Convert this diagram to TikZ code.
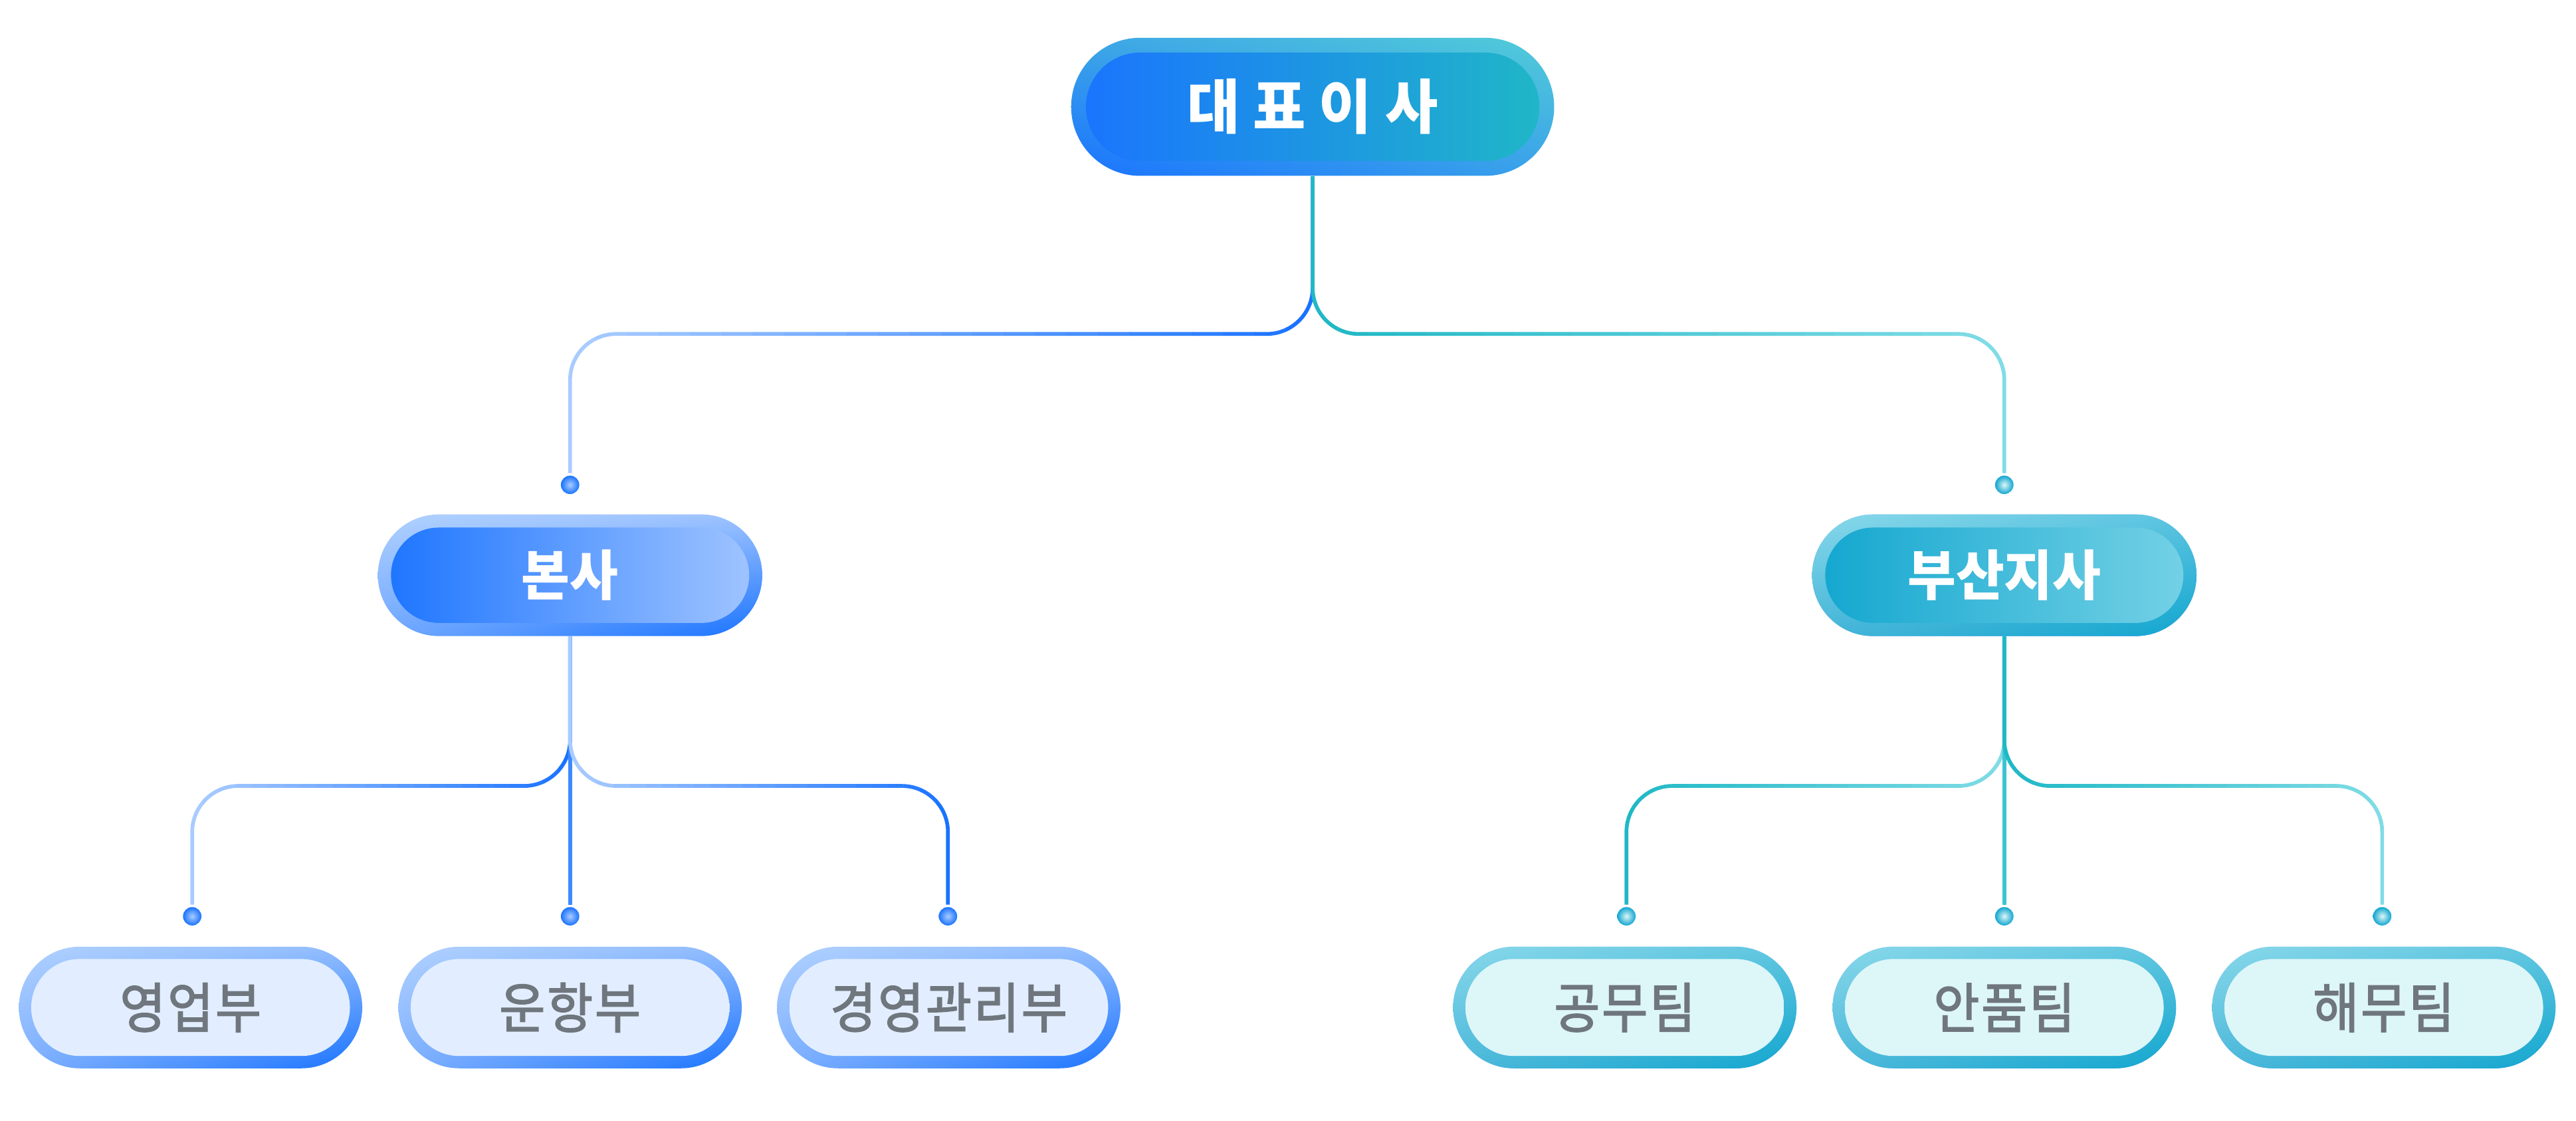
\documentclass[tikz,border=0pt]{standalone}
\usepackage{fontspec}
\newfontfamily\kr[FakeStretch=0.97]{Noto Sans CJK KR}
\newfontfamily\krm[FakeStretch=0.92,FakeBold=2,LetterSpace=3.5]{Noto Sans CJK KR}
\usetikzlibrary{shadings}

\definecolor{blueDk}{HTML}{1A73FF}
\definecolor{blueMid}{HTML}{3D8AFF}
\definecolor{blueLt}{HTML}{A9CCFF}
\definecolor{blueCore}{HTML}{A3C6FF}
\definecolor{blueFill}{HTML}{E2EEFF}
\definecolor{tealDk}{HTML}{12A6CF}
\definecolor{tealMid}{HTML}{20B8C6}
\definecolor{tealLine}{HTML}{3CC4D2}
\definecolor{tealLt}{HTML}{80DCE6}
\definecolor{tealCore}{HTML}{76D2E6}
\definecolor{tealFill}{HTML}{DDF6F8}
\definecolor{textGray}{HTML}{6F767D}
\definecolor{ceoUL}{HTML}{3DA6E6}
\definecolor{ceoUR}{HTML}{52CCD8}
\definecolor{ceoLR}{HTML}{3AA2EA}
\definecolor{hqUL}{HTML}{B1D1FF}
\definecolor{hqUR}{HTML}{9CC2FF}
\definecolor{hqLL}{HTML}{70A8FF}
\definecolor{bsUL}{HTML}{88D8EA}
\definecolor{bsUR}{HTML}{5CC4E0}
\definecolor{bsLL}{HTML}{45B5D8}
\definecolor{tmUR}{HTML}{90BCFF}
\definecolor{tmLL}{HTML}{7EB0FF}
\definecolor{ttUR}{HTML}{60C6E0}
\definecolor{ttLL}{HTML}{4CB8DA}

\tikzset{
  link/.style={line width=2.3pt, rounded corners=28pt},
  pill/.style={rectangle, inner sep=0pt},
  ring/.style n args={4}{preaction={upper left=#1, upper right=#2, lower left=#3, lower right=#4}},
  core/.style n args={4}{path picture={\shade[left color=#1, right color=#2, rounded corners=#4]
      ([shift={(#3,#3)}]path picture bounding box.south west) rectangle
      ([shift={(-#3,-#3)}]path picture bounding box.north east);}},
  ceobox/.style={pill, minimum width=294pt, minimum height=84pt, rounded corners=42pt,
      ring={ceoUL}{ceoUR}{blueDk}{ceoLR}, core={blueDk}{tealMid}{9pt}{33pt},
      font=\kr\bfseries\fontsize{36}{36}\selectfont, text=white},
  hqbox/.style={pill, minimum width=234pt, minimum height=74pt, rounded corners=37pt,
      ring={hqUL}{hqUR}{hqLL}{blueDk}, core={blueDk}{blueCore}{8pt}{29pt},
      font=\kr\bfseries\fontsize{33}{33}\selectfont, text=white},
  bsbox/.style={hqbox, ring={bsUL}{bsUR}{bsLL}{tealDk}, core={tealDk}{tealCore}{8pt}{29pt}},
  hqteam/.style={pill, minimum width=209pt, minimum height=74pt, rounded corners=37pt,
      ring={hqUL}{tmUR}{tmLL}{blueDk}, core={blueFill}{blueFill}{7.5pt}{29.5pt},
      font=\krm\fontsize{33}{33}\selectfont, text=textGray},
  bsteam/.style={hqteam, ring={bsUL}{ttUR}{ttLL}{tealDk}, core={tealFill}{tealFill}{7.5pt}{29.5pt}},
  bdot/.style={circle, inner sep=0pt, minimum size=11.2pt, outer sep=1.5pt,
      inner color=blueLt, outer color=blueDk},
  tdot/.style={bdot, inner color=tealFill, outer color=tealDk}
}

% #1,#2: x range, #3: left colour, #4: right colour, #5: path
\newcommand\gradpath[5]{%
  \foreach \k in {0,...,23}{%
    \pgfmathtruncatemacro\mix{100*\k/23}%
    \begin{scope}
      \clip ({#1-3+(#2-#1+6)*\k/24},0) rectangle ({#1-3+(#2-#1+6)*(\k+1)/24+0.4},682);
      \draw[link, #4!\mix!#3] #5;
    \end{scope}}}

\begin{document}
\begin{tikzpicture}[x=1pt,y=1pt]
  \useasboundingbox (0,0) rectangle (1568,682);

  \node[ceobox] (ceo) at (799,617) {대 표 이 사};
  \node[hqbox] (hq) at (347,332) {본사};
  \node[bsbox] (bs) at (1220,332) {부산지사};

  \node[bdot] (dhq) at (347,387) {};
  \node[tdot] (dbs) at (1220,387) {};

  \node[bdot] (d1) at (117,124.5) {};
  \node[bdot] (d2) at (347,124.5) {};
  \node[bdot] (d3) at (577,124.5) {};
  \node[tdot] (d4) at (990,124.5) {};
  \node[tdot] (d5) at (1220,124.5) {};
  \node[tdot] (d6) at (1450,124.5) {};

  \node[hqteam] (sales) at (116,69) {영업부};
  \node[hqteam] (ops) at (347,69) {운항부};
  \node[hqteam] (admin) at (577.5,69) {경영관리부};
  \node[bsteam] (works) at (989,69) {공무팀};
  \node[bsteam] (safety) at (1220,69) {안품팀};
  \node[bsteam] (marine) at (1451,69) {해무팀};

  \gradpath{347}{799}{blueLt}{blueDk}{(ceo.south) -- ++(0,-96) -| (dhq.north)}
  \gradpath{799}{1220}{tealMid}{tealLt}{(ceo.south) -- ++(0,-96) -| (dbs.north)}

  \gradpath{117}{347}{blueLt}{blueDk}{(hq.south) -- ++(0,-91) -| (d1.north)}
  \draw[link, blueMid] (hq.south) -- (d2.north);
  \gradpath{347}{577}{blueLt}{blueDk}{(hq.south) -- ++(0,-91) -| (d3.north)}

  \gradpath{990}{1220}{tealMid}{tealLt}{(bs.south) -- ++(0,-91) -| (d4.north)}
  \draw[link, tealLine] (bs.south) -- (d5.north);
  \gradpath{1220}{1450}{tealMid}{tealLt}{(bs.south) -- ++(0,-91) -| (d6.north)}
\end{tikzpicture}
\end{document}
